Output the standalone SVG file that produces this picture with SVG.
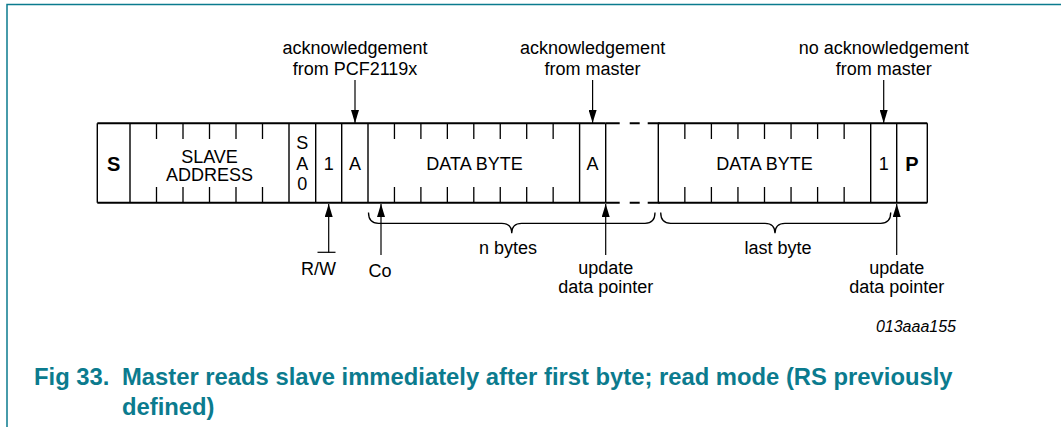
<svg xmlns="http://www.w3.org/2000/svg" width="1061" height="427" viewBox="0 0 1061 427">
  <style>
    .frame { fill: none; stroke: #0b7b8e; stroke-width: 1.5; }
    .hl { stroke: #000; stroke-width: 2; fill: none; }
    .vl { stroke: #000; stroke-width: 1.4; fill: none; }
    .tk { stroke: #000; stroke-width: 1.3; fill: none; }
    .dash { stroke: #000; stroke-width: 2; fill: none; stroke-dasharray: 14 10 10 8 12; }
    .ar { stroke: #000; stroke-width: 1.2; fill: none; marker-end: url(#ah); }
    .br { stroke: #000; stroke-width: 1.3; fill: none; }
    text { font-family: "Liberation Sans", Arial, Helvetica, sans-serif; fill: #000; }
    .t { font-size: 18px; text-anchor: middle; }
    .b { font-size: 20px; font-weight: bold; text-anchor: middle; }
    .id { font-size: 16px; font-style: italic; text-anchor: end; }
    .cap { font-size: 23.8px; font-weight: bold; fill: #0b7b8e; }
  </style>
  <defs>
    <marker id="ah" viewBox="0 0 13 8" refX="13" refY="4" markerWidth="13" markerHeight="8" markerUnits="userSpaceOnUse" orient="auto">
      <path d="M0,0 L13,4 L0,8 z" fill="#000"/>
    </marker>
  </defs>

  <!-- page frame -->
  <path class="frame" d="M7,427 V4.5 H1061"/>

  <!-- frame row: first part -->
  <g id="frame-first">
    <path class="hl" d="M97.3,123.3 H605.7 M97.3,202.7 H605.7"/>
    <path class="vl" d="M97.3,123.3 V202.7 M130,123.3 V202.7 M289,123.3 V202.7 M315.7,123.3 V202.7 M341.7,123.3 V202.7 M368,123.3 V202.7 M579.6,123.3 V202.7 M605.7,123.3 V202.7"/>
    <path class="tk" d="M156.5,123.3 V139 M183,123.3 V139 M209.5,123.3 V139 M236,123.3 V139 M262.5,123.3 V139
                        M156.5,187 V202.7 M183,187 V202.7 M209.5,187 V202.7 M236,187 V202.7 M262.5,187 V202.7
                        M394.45,123.3 V139 M420.9,123.3 V139 M447.35,123.3 V139 M473.8,123.3 V139 M500.25,123.3 V139 M526.7,123.3 V139 M553.15,123.3 V139
                        M394.45,187 V202.7 M420.9,187 V202.7 M447.35,187 V202.7 M473.8,187 V202.7 M500.25,187 V202.7 M526.7,187 V202.7 M553.15,187 V202.7"/>
    <path class="dash" d="M605.7,123.3 H659.7 M605.7,202.7 H659.7"/>
  </g>

  <g id="cell-s"><text class="b" x="113.7" y="170.5">S</text></g>
  <g id="cell-slave-address">
    <text class="t" x="209.5" y="162.5">SLAVE</text>
    <text class="t" x="209.5" y="181">ADDRESS</text>
  </g>
  <g id="cell-sa0">
    <text class="t" x="302.3" y="148.5">S</text>
    <text class="t" x="302.3" y="169.5">A</text>
    <text class="t" x="302.3" y="190">0</text>
  </g>
  <g id="cell-rw"><text class="t" x="328.7" y="169.5">1</text></g>
  <g id="cell-ack1"><text class="t" x="354.9" y="169.5">A</text></g>
  <g id="cell-data1"><text class="t" x="474.5" y="169.5">DATA BYTE</text></g>
  <g id="cell-ack2"><text class="t" x="592.6" y="169.5">A</text></g>

  <!-- frame row: last part -->
  <g id="frame-last">
    <path class="hl" d="M658.3,123.3 H927.3 M658.3,202.7 H927.3"/>
    <path class="vl" d="M658.3,123.3 V202.7 M870.7,123.3 V202.7 M896.7,123.3 V202.7 M927.3,123.3 V202.7"/>
    <path class="tk" d="M684.85,123.3 V139 M711.4,123.3 V139 M737.95,123.3 V139 M764.5,123.3 V139 M791.05,123.3 V139 M817.6,123.3 V139 M844.15,123.3 V139
                        M684.85,187 V202.7 M711.4,187 V202.7 M737.95,187 V202.7 M764.5,187 V202.7 M791.05,187 V202.7 M817.6,187 V202.7 M844.15,187 V202.7"/>
  </g>
  <g id="cell-data2"><text class="t" x="764.5" y="169.5">DATA BYTE</text></g>
  <g id="cell-nack"><text class="t" x="883.7" y="169.5">1</text></g>
  <g id="cell-p"><text class="b" x="912" y="170.5">P</text></g>

  <!-- connectors -->
  <g id="connectors">
    <path class="ar" d="M355,80 V123"/>
    <path class="ar" d="M592.6,80 V123"/>
    <path class="ar" d="M883.7,80 V123"/>
    <path class="ar" d="M328.7,252.5 V204"/>
    <path class="ar" d="M381,255 V204"/>
    <path class="ar" d="M605.7,255 V204"/>
    <path class="ar" d="M896.7,255 V204"/>
    <path class="br" d="M368.5,212.5 Q368.5,223.3 378.5,223.3 H501.7 Q511.7,223.3 511.7,233.3 Q511.7,223.3 521.7,223.3 H645 Q655,223.3 655,212.5"/>
    <path class="br" d="M660.7,212.5 Q660.7,223.3 670.7,223.3 H765 Q775,223.3 775,233.3 Q775,223.3 785,223.3 H880.7 Q890.7,223.3 890.7,212.5"/>
  </g>

  <!-- labels -->
  <g id="label-ack-pcf">
    <text class="t" x="355" y="54">acknowledgement</text>
    <text class="t" x="355" y="75">from PCF2119x</text>
  </g>
  <g id="label-ack-master">
    <text class="t" x="592.6" y="54">acknowledgement</text>
    <text class="t" x="592.6" y="75">from master</text>
  </g>
  <g id="label-nack-master">
    <text class="t" x="883.7" y="54">no acknowledgement</text>
    <text class="t" x="883.7" y="75">from master</text>
  </g>
  <g id="label-rw">
    <text class="t" x="318.5" y="275">R/W</text>
    <path d="M317.5,252.3 H335.5" stroke="#000" stroke-width="1.2"/>
  </g>
  <g id="label-co"><text class="t" x="380" y="277">Co</text></g>
  <g id="label-nbytes"><text class="t" x="508" y="254">n bytes</text></g>
  <g id="label-lastbyte"><text class="t" x="778" y="254">last byte</text></g>
  <g id="label-update1">
    <text class="t" x="605.7" y="273.5">update</text>
    <text class="t" x="605.7" y="293">data pointer</text>
  </g>
  <g id="label-update2">
    <text class="t" x="896.7" y="273.5">update</text>
    <text class="t" x="896.7" y="293">data pointer</text>
  </g>
  <text class="id" x="956" y="331.5">013aaa155</text>

  <!-- caption -->
  <text class="cap" x="34" y="385">Fig 33.</text>
  <text class="cap" x="122" y="385">Master reads slave immediately after first byte; read mode (RS previously</text>
  <text class="cap" x="122" y="415">defined)</text>
</svg>
